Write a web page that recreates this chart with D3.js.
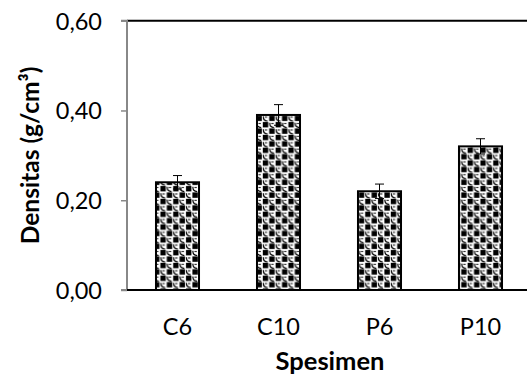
<!DOCTYPE html>
<html><head><meta charset="utf-8">
<script src="https://cdn.jsdelivr.net/npm/d3@7"></script>
<style>html,body{margin:0;padding:0;background:#fff}svg{display:block}</style>
</head><body>
<svg id="c" width="527" height="378"></svg>
<script>
const categories = ["C6", "C10", "P6", "P10"];
const values = [0.24, 0.39, 0.22, 0.32];
const errors = [0.015, 0.023, 0.016, 0.017];
const yTicks = [0, 0.2, 0.4, 0.6];
const yTickLabels = ["0,00", "0,20", "0,40", "0,60"];
const xTitle = "Spesimen";
const yTitle = "Densitas (g/cm³)";

(function () {
const svg = d3.select("#c");
const pL = 127, pR = 531, pT = 20.7, pB = 290;
const FONT = "Lato, 'Open Sans', sans-serif";
const x = d3.scaleBand().domain(categories).range([pL, pR]).paddingInner(0.574).paddingOuter(0.287);
const y = d3.scaleLinear().domain([0, 0.6]).range([pB, pT]);

// pattern (sphere-like checkerboard)
const defs = svg.append("defs");
const s = 12.8;
const p = defs.append("pattern").attr("id", "sph").attr("patternUnits", "userSpaceOnUse")
  .attr("width", s).attr("height", s);
p.append("rect").attr("width", s).attr("height", s).attr("fill", "#fff");
const cell = s / 2;
[[0, 0], [cell, cell]].forEach(([cx, cy]) => {
  p.append("rect").attr("x", cx + 0.4).attr("y", cy + 0.4).attr("width", 5.4).attr("height", 5.4).attr("fill", "#000");
});
[[cell, 0], [0, cell]].forEach(([cx, cy]) => {
  p.append("path").attr("d", `M${cx + 0.9},${cy + 1.2} Q${cx + 0.6},${cy + 5.8} ${cx + 5.2},${cy + 5.9}`)
    .attr("fill", "none").attr("stroke", "#000").attr("stroke-width", 1.2);
  p.append("rect").attr("x", cx + 2.4).attr("y", cy + 1.4).attr("width", 2.4).attr("height", 1.1).attr("fill", "#222");
});

const g = svg.append("g");
g.append("line").attr("x1", pL).attr("x2", 527).attr("y1", pT).attr("y2", pT)
  .attr("stroke", "#000").attr("stroke-width", 2);

// bars
const bars = categories.map((c, i) => ({ c, v: values[i], e: errors[i] }));
g.selectAll("rect.bar").data(bars).join("rect").attr("class", "bar")
  .attr("x", d => x(d.c)).attr("width", x.bandwidth())
  .attr("y", d => y(d.v)).attr("height", d => y(0) - y(d.v))
  .attr("fill", "url(#sph)").attr("stroke", "#000").attr("stroke-width", 2);

// error bars
const eg = g.selectAll("g.err").data(bars).join("g").attr("class", "err")
  .attr("transform", d => `translate(${x(d.c) + x.bandwidth() / 2},0)`);
eg.append("line").attr("y1", d => y(d.v - d.e)).attr("y2", d => y(d.v + d.e))
  .attr("stroke", "#000").attr("stroke-width", 1);
eg.append("line").attr("x1", -4.5).attr("x2", 4.5).attr("y1", d => y(d.v + d.e)).attr("y2", d => y(d.v + d.e))
  .attr("stroke", "#000").attr("stroke-width", 1);
eg.append("line").attr("x1", -4.5).attr("x2", 4.5).attr("y1", d => y(d.v - d.e)).attr("y2", d => y(d.v - d.e))
  .attr("stroke", "#000").attr("stroke-width", 1);

// y axis
const yAxis = d3.axisLeft(y).tickValues(yTicks).tickSize(6).tickPadding(19)
  .tickFormat((d, i) => yTickLabels[i]);
const ya = svg.append("g").attr("transform", `translate(${pL},0)`).call(yAxis);
ya.select(".domain").attr("stroke", "#888").attr("stroke-width", 2).attr("d", `M-6,${pT}H0V${pB}H-6`);
ya.selectAll(".tick line").attr("stroke", "#888").attr("stroke-width", 1.5);
ya.selectAll(".tick text").attr("font-family", FONT).attr("font-size", 23.5)
  .attr("fill", "#000").attr("dy", "0.36em");

// x axis
const xAxis = d3.axisBottom(x).tickSize(0).tickPadding(28);
const xa = svg.append("g").attr("transform", `translate(0,${pB})`).call(xAxis);
xa.select(".domain").attr("stroke", "#000").attr("stroke-width", 2).attr("d", `M${pL},0H527`);
xa.selectAll(".tick text").attr("font-family", FONT).attr("font-size", 23.5)
  .attr("fill", "#000").attr("dy", "0.71em");

// titles
svg.append("text").attr("x", 330).attr("y", 370).attr("text-anchor", "middle")
  .attr("font-family", FONT).attr("font-weight", "bold").attr("font-size", 25.5)
  .attr("fill", "#000").text(xTitle);
svg.append("text").attr("transform", `translate(39,${(pT + pB) / 2}) rotate(-90)`).attr("text-anchor", "middle")
  .attr("font-family", FONT).attr("font-weight", "bold").attr("font-size", 24.5)
  .attr("fill", "#000").text(yTitle);
})();
</script>
</body></html>
